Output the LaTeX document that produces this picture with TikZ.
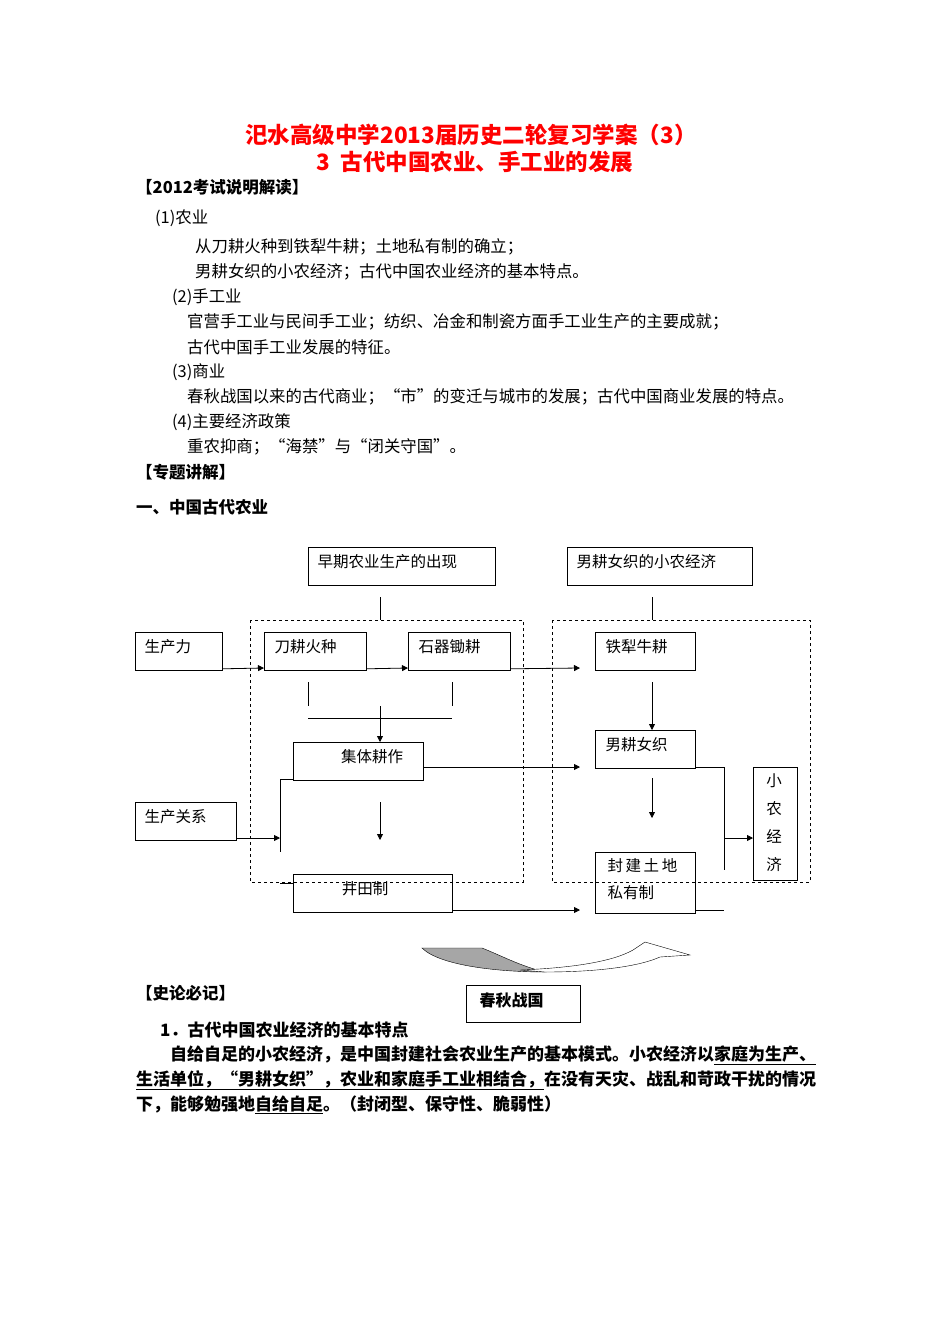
\documentclass[tikz,border=0pt]{standalone}
\usepackage{fontspec}
\setmainfont{Noto Sans CJK SC}
\usetikzlibrary{arrows.meta}
\begin{document}
\begin{tikzpicture}[x=1pt,y=-1pt,
 bx/.style={draw,thick,anchor=north west,inner sep=0pt},
 lb/.style={anchor=west,font=\fontsize{15.5}{17}\selectfont},
 ar/.style={-{Triangle[length=6pt,width=6pt]}},
 tx/.style={anchor=west,inner sep=0pt,font=\fontsize{16.4}{18}\selectfont},
 hd/.style={anchor=west,inner sep=0pt,font=\bfseries\fontsize{16.5}{18}\selectfont},
 pb/.style={anchor=west,inner sep=0pt,font=\bfseries\fontsize{17}{18}\selectfont}]
\useasboundingbox (0,0) rectangle (950,1344);
\fill[white] (0,0) rectangle (950,1344);
% title
\node[text=red,font=\bfseries\fontsize{22.5}{24}\selectfont] (t1) at (471,135) {汜水高级中学2013届历史二轮复习学案（3）};
\node[text=red,font=\bfseries\fontsize{22.5}{24}\selectfont] (t2) at (475,162) {3\ \ 古代中国农业、手工业的发展};
\node[hd] (h1) at (136,187) {【2012考试说明解读】};
\node[tx] (l1) at (155,218) {(1)农业};
\node[tx] (l2) at (195,247) {从刀耕火种到铁犁牛耕；土地私有制的确立；};
\node[tx] (l3) at (195,272) {男耕女织的小农经济；古代中国农业经济的基本特点。};
\node[tx] (l4) at (172,297) {(2)手工业};
\node[tx] (l5) at (187,322) {官营手工业与民间手工业；纺织、冶金和制瓷方面手工业生产的主要成就；};
\node[tx] (l6) at (187,347) {古代中国手工业发展的特征。};
\node[tx] (l7) at (172,372) {(3)商业};
\node[tx] (l8) at (187,397) {春秋战国以来的古代商业；“市”的变迁与城市的发展；古代中国商业发展的特点。};
\node[tx] (l9) at (172,422) {(4)主要经济政策};
\node[tx] (l10) at (187,447) {重农抑商；“海禁”与“闭关守国”。};
\node[hd] (h2) at (136,472) {【专题讲解】};
\node[hd] (h3) at (136,507) {一、中国古代农业};
% diagram
\draw[thick,dashed] (250,620) rectangle (523,882);
\draw[thick,dashed] (552,620) rectangle (810,882);
\node[bx,minimum width=187pt,minimum height=38pt] (zq) at (308,547) {};
\node[lb] at (314,562) {早期农业生产的出现};
\node[bx,minimum width=185pt,minimum height=38pt] (ng) at (567,547) {};
\node[lb] at (573,562) {男耕女织的小农经济};
\draw[thick] (380,597) -- (380,620);
\draw[thick] (652,597) -- (652,620);
\node[bx,minimum width=87pt,minimum height=38pt] (scl) at (135,632) {};
\node[lb] at (141,647) {生产力};
\node[bx,minimum width=102pt,minimum height=38pt] (dg) at (264,632) {};
\node[lb] at (271,647) {刀耕火种};
\node[bx,minimum width=102pt,minimum height=38pt] (sq) at (408,632) {};
\node[lb] at (415,647) {石器锄耕};
\node[bx,minimum width=100pt,minimum height=38pt] (tl) at (595,632) {};
\node[lb] at (602,647) {铁犁牛耕};
\draw[thick,ar] (scl.south east) ++(0,-2) -- (264,668);
\draw[thick,ar] (dg.south east) ++(0,-2) -- (408,668);
\draw[thick,ar] (sq.south east) ++(0,-2) -- (580,668);
\draw[thick] (308,682) -- (308,706);
\draw[thick] (452,682) -- (452,706);
\draw[thick] (308,718) -- (452,718);
\node[bx,minimum width=130pt,minimum height=38pt] (jt) at (293,742) {};
\node[font=\fontsize{15.5}{17}\selectfont] at (372,757) {集体耕作};
\coordinate (c1) at (380,706);
\draw[thick,ar] (c1) -- (jt.north -| c1);
\draw[thick,ar] (423,767) -- (580,767);
\node[bx,minimum width=100pt,minimum height=38pt] (nz) at (595,730) {};
\node[lb] at (602,745) {男耕女织};
\coordinate (c2) at (652,682);
\draw[thick,ar] (c2) -- (nz.north -| c2);
\node[bx,minimum width=101pt,minimum height=38pt] (gx) at (135,802) {};
\node[lb] at (141,817) {生产关系};
\draw[thick] (293,779) -- (280,779) -- (280,852);
\draw[thick,ar] (236,838) -- (280,838);
\draw[thick,ar] (380,802) -- (380,840);
\node[bx,minimum width=159pt,minimum height=38pt] (jtz) at (293,874) {};
\node[font=\fontsize{15.5}{17}\selectfont] at (365,889) {井田制};
\draw[thick] (280,883) -- (293,883);
\draw[thick,ar] (452,910) -- (580,910);
\node[bx,minimum width=100pt,minimum height=61pt] (fj) at (595,852) {};
\node[lb] at (604,866) {封\,建\,土\,地};
\node[lb] at (604,893) {私有制};
\draw[thick,ar] (652,778) -- (652,818);
\node[bx,minimum width=44pt,minimum height=113pt] (xn) at (753,767) {};
\node[font=\fontsize{15.5}{28}\selectfont,align=center] at (774,823) {小\\农\\经\\济};
\draw[thick] (695,767) -- (724,767) -- (724,870);
\draw[thick,ar] (724,838) -- (753,838);
\draw[thick] (695,910) -- (724,910);
% curved arrow
\fill[gray!70,draw=black] (422,948) .. controls (440,966) and (500,972) .. (545,972)
  .. controls (520,966) and (500,955) .. (482,948) -- cycle;
\draw[fill=white] (545,972) .. controls (600,972) and (640,966) .. (660,957) -- (690,955) -- (645,942) -- (633,950)
  .. controls (612,962) and (570,968) .. (520,970) -- cycle;
\node[bx,minimum width=114pt,minimum height=37pt] (cq) at (466,985) {};
\node[anchor=west,font=\bfseries\fontsize{16}{17}\selectfont] at (476,1000) {春秋战国};
% bottom text
\node[hd] (h4) at (136,993) {【史论必记】};
\node[pb] (p0) at (160,1030) {1．古代中国农业经济的基本特点};
\node[pb] (p1) at (170,1055) {自给自足的小农经济，是中国封建社会农业生产的基本模式。小农经济以\underline{家庭为生产、}};
\node[pb] (p2) at (136,1080) {\underline{生活单位，“男耕女织”，农业和家庭手工业相结合，}在没有天灾、战乱和苛政干扰的情况};
\node[pb] (p3) at (136,1105) {下，能够勉强地\underline{自给自足}。（封闭型、保守性、脆弱性）};
\end{tikzpicture}
\end{document}
